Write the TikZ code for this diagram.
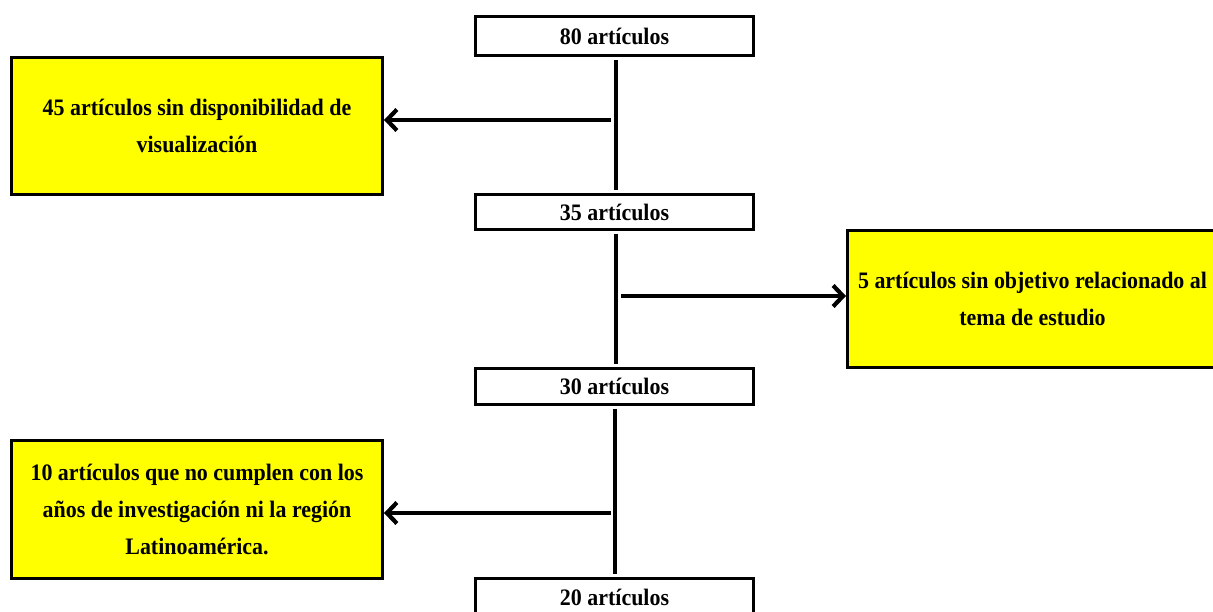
\documentclass[tikz,border=0pt]{standalone}
\usepackage{fontspec}
\setmainfont{Liberation Serif}[FakeStretch=0.93]
\usetikzlibrary{arrows.meta}
\definecolor{boxyellow}{RGB}{255,255,0}
\begin{document}
\begin{tikzpicture}[x=1pt,y=-1pt,
  txt/.style={font=\fontsize{23.6}{37}\selectfont\bfseries, align=center, inner sep=0pt},
  countbox/.style={txt, draw=black, line width=3pt, fill=white, minimum width=278pt},
  excbox/.style={txt, draw=black, line width=3pt, fill=boxyellow, minimum width=371pt, minimum height=137pt},
  link/.style={line width=3.8pt},
  exarrow/.style={line width=3.6pt, -{Straight Barb[length=10pt,width=21pt,line width=4.2pt]}}
]
\useasboundingbox (0,0) rectangle (1213,612);
\node[countbox, minimum height=39pt] (n80) at (614.5,36) {80 artículos};
\node[countbox, minimum height=35pt] (n35) at (614.5,212) {35 artículos};
\node[countbox, minimum height=36pt] (n30) at (614.5,386.5) {30 artículos};
\node[countbox, minimum height=39pt] (n20) at (614.5,597.5) {20 artículos};

\node[excbox] (e45) at (197,126) {45 artículos sin disponibilidad de\\visualización};
\node[excbox, minimum width=370pt] (e5) at (1032.5,299) {5 artículos sin objetivo relacionado al\\tema de estudio};
\node[excbox, minimum height=138pt] (e10) at (197,509.5) {10 artículos que no cumplen con los\\años de investigación ni la región\\Latinoamérica.};

\draw[link] ([xshift=1.5pt,yshift=-3pt]n80.south) -- ([xshift=1.5pt,yshift=3pt]n35.north);
\draw[link] ([xshift=1.5pt,yshift=-3pt]n35.south) -- ([xshift=1.5pt,yshift=3pt]n30.north);
\draw[link] ([xshift=0.5pt,yshift=-3pt]n30.south) -- ([xshift=0.5pt,yshift=3pt]n20.north);

\coordinate (s1) at (611,120);
\coordinate (s2) at (621,296);
\coordinate (s3) at (611,513);
\draw[exarrow] (s1) -- (s1 -| e45.east);
\draw[exarrow] (s2) -- (s2 -| e5.west);
\draw[exarrow] (s3) -- (s3 -| e10.east);
\end{tikzpicture}
\end{document}
